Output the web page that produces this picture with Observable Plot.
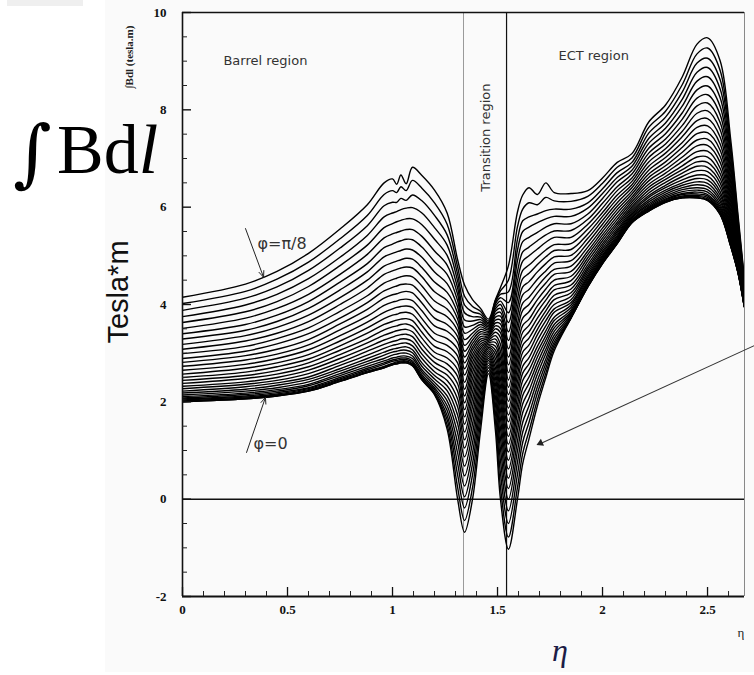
<!DOCTYPE html>
<html>
<head>
<meta charset="utf-8">
<script src="https://cdn.jsdelivr.net/npm/d3@7"></script>
<script src="https://cdn.jsdelivr.net/npm/@observablehq/plot@0.6"></script>
<style>
  body { margin: 0; background: #fff; }
  #wrap { position: relative; width: 754px; height: 675px; overflow: hidden; }
  #paper { position: absolute; left: 105px; top: 0; width: 649px; height: 672px; background: #fafafa; }
  #tab { position: absolute; left: 7px; top: 0; width: 76px; height: 6px; background: #efefef; }
  #chart { position: absolute; left: 0; top: 0; }
</style>
</head>
<body>
<div id="wrap">
  <div id="paper"></div>
  <div id="tab"></div>
  <div id="chart"></div>
</div>
<script>
// Pseudorapidity samples shared by every field-integral curve
const eta = [0, 0.30, 0.45, 0.60, 0.75, 0.88, 0.96, 1.00, 1.02, 1.04, 1.065, 1.095, 1.14, 1.20, 1.26, 1.31,
  1.343, 1.381, 1.419, 1.457, 1.49, 1.514, 1.552, 1.595, 1.62, 1.65, 1.69, 1.73, 1.77, 1.85, 1.93, 2.00,
  2.07, 2.14, 2.22, 2.30, 2.38, 2.45, 2.50, 2.56, 2.61, 2.645, 2.675];

// ∫Bdl (T·m) at eta[i] for each azimuth step, from φ=0 (first) to φ=π/8 (last)
const col00 = [2.00, 2.00, 2.01, 2.02, 2.04, 2.06, 2.08, 2.11, 2.14, 2.18, 2.22, 2.27, 2.32, 2.38, 2.44, 2.50, 2.57, 2.65, 2.73, 2.81, 2.89, 2.99, 3.08, 3.18, 3.29, 3.40, 3.51, 3.63, 3.75, 3.88, 4.02, 4.15];
const col01 = [2.06, 2.06, 2.07, 2.08, 2.10, 2.12, 2.15, 2.18, 2.22, 2.26, 2.31, 2.36, 2.41, 2.48, 2.54, 2.61, 2.69, 2.77, 2.86, 2.95, 3.04, 3.14, 3.25, 3.36, 3.47, 3.59, 3.72, 3.85, 3.99, 4.13, 4.27, 4.42];
const col02 = [2.12, 2.12, 2.13, 2.14, 2.16, 2.19, 2.22, 2.25, 2.29, 2.34, 2.39, 2.44, 2.50, 2.57, 2.64, 2.72, 2.80, 2.89, 2.98, 3.08, 3.19, 3.30, 3.41, 3.53, 3.65, 3.78, 3.92, 4.06, 4.21, 4.36, 4.52, 4.68];
const col03 = [2.22, 2.22, 2.23, 2.25, 2.27, 2.29, 2.33, 2.36, 2.41, 2.46, 2.51, 2.58, 2.65, 2.72, 2.80, 2.88, 2.97, 3.07, 3.17, 3.28, 3.40, 3.52, 3.65, 3.78, 3.92, 4.06, 4.21, 4.37, 4.53, 4.70, 4.87, 5.05];
const col04 = [2.42, 2.42, 2.43, 2.45, 2.47, 2.50, 2.54, 2.58, 2.63, 2.68, 2.75, 2.81, 2.89, 2.97, 3.06, 3.15, 3.25, 3.36, 3.48, 3.60, 3.72, 3.86, 4.00, 4.14, 4.30, 4.46, 4.62, 4.80, 4.97, 5.16, 5.35, 5.55];
const col05 = [2.60, 2.60, 2.61, 2.63, 2.66, 2.69, 2.73, 2.78, 2.83, 2.89, 2.96, 3.04, 3.12, 3.21, 3.30, 3.41, 3.52, 3.64, 3.76, 3.90, 4.04, 4.18, 4.34, 4.50, 4.67, 4.84, 5.03, 5.22, 5.42, 5.62, 5.83, 6.05];
const col06 = [2.70, 2.70, 2.72, 2.73, 2.77, 2.80, 2.84, 2.89, 2.96, 3.02, 3.10, 3.18, 3.27, 3.37, 3.48, 3.59, 3.71, 3.84, 3.98, 4.13, 4.28, 4.44, 4.62, 4.79, 4.98, 5.17, 5.37, 5.58, 5.80, 6.03, 6.26, 6.50];
const col07 = [2.76, 2.76, 2.78, 2.79, 2.83, 2.86, 2.90, 2.96, 3.02, 3.08, 3.16, 3.24, 3.33, 3.43, 3.54, 3.65, 3.78, 3.91, 4.05, 4.20, 4.35, 4.51, 4.69, 4.86, 5.05, 5.24, 5.45, 5.66, 5.88, 6.10, 6.34, 6.58];
const col08 = [2.78, 2.78, 2.80, 2.82, 2.85, 2.88, 2.92, 2.98, 3.04, 3.10, 3.18, 3.26, 3.36, 3.46, 3.56, 3.68, 3.80, 3.94, 4.07, 4.22, 4.38, 4.54, 4.72, 4.89, 5.08, 5.28, 5.48, 5.70, 5.91, 6.10, 6.30, 6.47];
const col09 = [2.80, 2.80, 2.82, 2.84, 2.87, 2.90, 2.94, 3.00, 3.06, 3.12, 3.20, 3.29, 3.38, 3.48, 3.59, 3.70, 3.83, 3.96, 4.10, 4.25, 4.41, 4.57, 4.75, 4.92, 5.11, 5.31, 5.51, 5.73, 5.95, 6.18, 6.42, 6.66];
const col10 = [2.80, 2.80, 2.82, 2.84, 2.87, 2.90, 2.94, 3.00, 3.06, 3.13, 3.21, 3.29, 3.39, 3.49, 3.60, 3.71, 3.84, 3.97, 4.11, 4.27, 4.42, 4.59, 4.77, 4.95, 5.14, 5.34, 5.54, 5.76, 5.98, 6.14, 6.34, 6.48];
const col11 = [2.74, 2.74, 2.76, 2.78, 2.81, 2.84, 2.89, 2.94, 3.01, 3.07, 3.15, 3.24, 3.34, 3.44, 3.55, 3.67, 3.80, 3.94, 4.08, 4.24, 4.40, 4.57, 4.75, 4.93, 5.12, 5.33, 5.54, 5.76, 5.99, 6.25, 6.55, 6.82];
const col12 = [2.45, 2.45, 2.47, 2.49, 2.52, 2.56, 2.61, 2.66, 2.73, 2.80, 2.89, 2.98, 3.08, 3.19, 3.31, 3.43, 3.57, 3.71, 3.87, 4.03, 4.20, 4.38, 4.57, 4.76, 4.97, 5.18, 5.40, 5.64, 5.88, 6.13, 6.39, 6.65];
const col13 = [2.15, 2.16, 2.18, 2.21, 2.25, 2.29, 2.34, 2.40, 2.47, 2.54, 2.62, 2.71, 2.81, 2.91, 3.02, 3.14, 3.27, 3.41, 3.56, 3.72, 3.89, 4.07, 4.26, 4.46, 4.67, 4.88, 5.10, 5.34, 5.58, 5.83, 6.09, 6.35];
const col14 = [1.44, 1.53, 1.63, 1.72, 1.82, 1.92, 2.02, 2.12, 2.23, 2.33, 2.44, 2.55, 2.66, 2.78, 2.90, 3.03, 3.16, 3.30, 3.45, 3.59, 3.75, 3.91, 4.08, 4.25, 4.43, 4.62, 4.81, 5.01, 5.22, 5.43, 5.65, 5.88];
const col15 = [0.00, 0.24, 0.50, 0.73, 0.95, 1.16, 1.36, 1.55, 1.73, 1.90, 2.06, 2.22, 2.37, 2.52, 2.66, 2.80, 2.94, 3.08, 3.22, 3.34, 3.46, 3.58, 3.70, 3.82, 3.95, 4.08, 4.21, 4.34, 4.48, 4.62, 4.77, 4.92];
const col16 = [-0.68, -0.44, -0.18, 0.05, 0.27, 0.48, 0.68, 0.87, 1.05, 1.22, 1.38, 1.54, 1.69, 1.84, 1.98, 2.12, 2.26, 2.40, 2.55, 2.68, 2.80, 2.92, 3.04, 3.16, 3.28, 3.41, 3.54, 3.68, 3.83, 3.99, 4.17, 4.40];
const col17 = [0.00, 0.24, 0.50, 0.73, 0.95, 1.16, 1.36, 1.55, 1.73, 1.90, 2.06, 2.21, 2.35, 2.48, 2.60, 2.71, 2.81, 2.90, 2.98, 3.06, 3.13, 3.20, 3.27, 3.34, 3.41, 3.49, 3.57, 3.66, 3.75, 3.85, 3.96, 4.10];
const col18 = [1.41, 1.58, 1.75, 1.91, 2.06, 2.20, 2.33, 2.45, 2.56, 2.66, 2.75, 2.83, 2.90, 2.97, 3.03, 3.09, 3.14, 3.19, 3.24, 3.29, 3.34, 3.39, 3.44, 3.49, 3.54, 3.59, 3.64, 3.69, 3.74, 3.80, 3.86, 3.92];
const col19 = [2.58, 2.64, 2.70, 2.75, 2.80, 2.85, 2.89, 2.93, 2.97, 3.01, 3.05, 3.09, 3.12, 3.15, 3.18, 3.21, 3.24, 3.27, 3.30, 3.33, 3.36, 3.39, 3.42, 3.45, 3.48, 3.51, 3.54, 3.57, 3.60, 3.63, 3.66, 3.70];
const col20 = [1.41, 1.60, 1.78, 1.95, 2.10, 2.24, 2.37, 2.49, 2.60, 2.70, 2.80, 2.89, 2.98, 3.06, 3.14, 3.22, 3.29, 3.36, 3.43, 3.50, 3.56, 3.62, 3.68, 3.74, 3.80, 3.86, 3.91, 3.96, 4.01, 4.05, 4.08, 4.10];
const col21 = [0.00, 0.25, 0.53, 0.79, 1.03, 1.25, 1.46, 1.65, 1.83, 2.00, 2.16, 2.32, 2.47, 2.62, 2.76, 2.90, 3.04, 3.18, 3.32, 3.42, 3.51, 3.60, 3.68, 3.76, 3.84, 3.92, 4.00, 4.07, 4.14, 4.21, 4.28, 4.35];
const col22 = [-1.03, -0.78, -0.50, -0.24, 0.00, 0.22, 0.43, 0.62, 0.80, 0.97, 1.13, 1.29, 1.44, 1.59, 1.73, 1.87, 2.01, 2.15, 2.30, 2.45, 2.60, 2.76, 2.92, 3.09, 3.26, 3.44, 3.63, 3.83, 4.04, 4.26, 4.50, 4.80];
const col23 = [0.00, 0.24, 0.51, 0.76, 0.99, 1.20, 1.41, 1.59, 1.78, 1.94, 2.10, 2.26, 2.41, 2.56, 2.71, 2.85, 2.99, 3.14, 3.30, 3.46, 3.61, 3.78, 3.95, 4.12, 4.30, 4.49, 4.68, 4.90, 5.12, 5.34, 5.60, 5.90];
const col24 = [0.73, 0.94, 1.17, 1.38, 1.58, 1.78, 1.96, 2.13, 2.28, 2.44, 2.59, 2.73, 2.88, 3.02, 3.16, 3.29, 3.43, 3.57, 3.72, 3.88, 4.03, 4.20, 4.36, 4.53, 4.70, 4.89, 5.08, 5.29, 5.50, 5.72, 5.96, 6.25];
const col25 = [1.24, 1.40, 1.58, 1.75, 1.92, 2.08, 2.23, 2.38, 2.51, 2.65, 2.78, 2.91, 3.04, 3.17, 3.31, 3.44, 3.57, 3.70, 3.85, 4.00, 4.15, 4.31, 4.47, 4.64, 4.81, 5.00, 5.18, 5.38, 5.59, 5.80, 6.09, 6.40];
const col26 = [1.92, 2.04, 2.18, 2.31, 2.44, 2.57, 2.69, 2.80, 2.92, 3.03, 3.14, 3.26, 3.38, 3.49, 3.60, 3.72, 3.85, 3.97, 4.10, 4.24, 4.37, 4.52, 4.67, 4.82, 4.97, 5.14, 5.31, 5.48, 5.68, 5.86, 6.05, 6.26];
const col27 = [2.50, 2.59, 2.69, 2.79, 2.88, 2.99, 3.08, 3.18, 3.27, 3.36, 3.46, 3.56, 3.67, 3.77, 3.87, 3.97, 4.09, 4.19, 4.32, 4.44, 4.57, 4.69, 4.84, 4.98, 5.12, 5.28, 5.43, 5.59, 5.76, 5.93, 6.20, 6.50];
const col28 = [3.05, 3.11, 3.17, 3.23, 3.30, 3.37, 3.45, 3.52, 3.59, 3.67, 3.74, 3.84, 3.91, 4.00, 4.10, 4.19, 4.30, 4.39, 4.50, 4.62, 4.72, 4.85, 4.98, 5.11, 5.23, 5.38, 5.51, 5.66, 5.81, 5.96, 6.13, 6.30];
const col29 = [3.72, 3.72, 3.73, 3.74, 3.76, 3.79, 3.82, 3.85, 3.89, 3.94, 3.99, 4.04, 4.10, 4.17, 4.24, 4.32, 4.40, 4.49, 4.58, 4.68, 4.79, 4.90, 5.01, 5.13, 5.25, 5.38, 5.52, 5.66, 5.81, 5.96, 6.12, 6.28];
const col30 = [4.36, 4.36, 4.37, 4.38, 4.39, 4.41, 4.43, 4.46, 4.49, 4.53, 4.57, 4.61, 4.66, 4.71, 4.76, 4.82, 4.89, 4.96, 5.03, 5.10, 5.18, 5.27, 5.36, 5.45, 5.55, 5.65, 5.75, 5.86, 5.98, 6.09, 6.22, 6.34];
const col31 = [4.84, 4.84, 4.85, 4.86, 4.87, 4.89, 4.91, 4.93, 4.96, 4.99, 5.02, 5.06, 5.10, 5.15, 5.20, 5.25, 5.31, 5.37, 5.43, 5.50, 5.57, 5.65, 5.73, 5.81, 5.89, 5.98, 6.08, 6.18, 6.28, 6.38, 6.49, 6.60];
const col32 = [5.25, 5.25, 5.26, 5.27, 5.28, 5.29, 5.31, 5.34, 5.36, 5.39, 5.42, 5.46, 5.50, 5.54, 5.59, 5.64, 5.69, 5.75, 5.81, 5.88, 5.95, 6.02, 6.09, 6.17, 6.25, 6.34, 6.42, 6.52, 6.61, 6.71, 6.82, 6.92];
const col33 = [5.68, 5.68, 5.69, 5.69, 5.70, 5.72, 5.73, 5.75, 5.78, 5.80, 5.83, 5.86, 5.89, 5.93, 5.97, 6.01, 6.06, 6.11, 6.16, 6.21, 6.27, 6.33, 6.40, 6.46, 6.53, 6.60, 6.68, 6.76, 6.84, 6.92, 7.01, 7.10];
const col34 = [5.92, 5.92, 5.93, 5.94, 5.95, 5.97, 5.99, 6.01, 6.04, 6.07, 6.11, 6.15, 6.20, 6.24, 6.29, 6.35, 6.41, 6.47, 6.54, 6.61, 6.68, 6.76, 6.84, 6.93, 7.02, 7.11, 7.21, 7.31, 7.41, 7.52, 7.64, 7.75];
const col35 = [6.10, 6.10, 6.11, 6.12, 6.13, 6.15, 6.17, 6.20, 6.23, 6.27, 6.31, 6.35, 6.40, 6.45, 6.51, 6.57, 6.63, 6.70, 6.77, 6.85, 6.93, 7.02, 7.11, 7.20, 7.30, 7.40, 7.51, 7.62, 7.73, 7.85, 7.97, 8.10];
const col36 = [6.19, 6.19, 6.20, 6.21, 6.23, 6.26, 6.28, 6.32, 6.36, 6.40, 6.45, 6.50, 6.56, 6.63, 6.70, 6.77, 6.85, 6.94, 7.03, 7.13, 7.23, 7.33, 7.45, 7.56, 7.68, 7.81, 7.94, 8.08, 8.22, 8.37, 8.52, 8.68];
const col37 = [6.19, 6.19, 6.20, 6.22, 6.24, 6.27, 6.31, 6.35, 6.40, 6.46, 6.52, 6.59, 6.66, 6.75, 6.84, 6.93, 7.03, 7.14, 7.26, 7.38, 7.51, 7.64, 7.78, 7.93, 8.08, 8.24, 8.41, 8.59, 8.77, 8.96, 9.15, 9.35];
const col38 = [6.14, 6.14, 6.15, 6.17, 6.20, 6.23, 6.26, 6.31, 6.36, 6.42, 6.49, 6.56, 6.64, 6.73, 6.82, 6.92, 7.03, 7.15, 7.27, 7.40, 7.53, 7.67, 7.82, 7.98, 8.14, 8.31, 8.49, 8.68, 8.87, 9.06, 9.27, 9.48];
const col39 = [5.85, 5.85, 5.86, 5.88, 5.90, 5.93, 5.97, 6.01, 6.06, 6.12, 6.18, 6.25, 6.32, 6.41, 6.50, 6.59, 6.69, 6.80, 6.92, 7.04, 7.17, 7.30, 7.44, 7.59, 7.74, 7.90, 8.07, 8.25, 8.43, 8.62, 8.81, 9.01];
const col40 = [5.20, 5.20, 5.21, 5.22, 5.24, 5.26, 5.28, 5.31, 5.35, 5.39, 5.43, 5.48, 5.53, 5.59, 5.65, 5.72, 5.79, 5.86, 5.94, 6.03, 6.12, 6.21, 6.31, 6.41, 6.52, 6.63, 6.75, 6.87, 7.00, 7.13, 7.26, 7.40];
const col41 = [4.65, 4.65, 4.66, 4.66, 4.67, 4.68, 4.69, 4.71, 4.73, 4.75, 4.78, 4.80, 4.83, 4.86, 4.90, 4.93, 4.97, 5.01, 5.05, 5.10, 5.15, 5.20, 5.26, 5.31, 5.37, 5.43, 5.49, 5.56, 5.63, 5.70, 5.77, 5.85];
const col42 = [3.95, 3.95, 3.95, 3.96, 3.96, 3.97, 3.97, 3.98, 3.99, 4.00, 4.01, 4.03, 4.04, 4.06, 4.07, 4.09, 4.11, 4.13, 4.15, 4.18, 4.20, 4.23, 4.25, 4.28, 4.31, 4.34, 4.37, 4.41, 4.44, 4.48, 4.51, 4.55];

// Axis ticks
const xMajor = [0, 0.5, 1, 1.5, 2, 2.5];
const xMinor = [0.1, 0.2, 0.3, 0.4, 0.6, 0.7, 0.8, 0.9, 1.1, 1.2, 1.3, 1.4, 1.6, 1.7, 1.8, 1.9, 2.1, 2.2, 2.3, 2.4, 2.6];
const yMajor = [-2, 0, 2, 4, 6, 8, 10];
const yMinor = [-1.5, -1, -0.5, 0.5, 1, 1.5, 2.5, 3, 3.5, 4.5, 5, 5.5, 6.5, 7, 7.5, 8.5, 9, 9.5];

// Region boundaries in eta
const boundaries = [1.338, 1.543];

// Long table: one row per (curve, eta) sample
const columns = [col00, col01, col02, col03, col04, col05, col06, col07, col08, col09, col10, col11, col12, col13,
  col14, col15, col16, col17, col18, col19, col20, col21, col22, col23, col24, col25, col26, col27, col28, col29,
  col30, col31, col32, col33, col34, col35, col36, col37, col38, col39, col40, col41, col42];
const samples = [];
eta.forEach((e, j) => columns[j].forEach((v, k) => samples.push({eta: e, bdl: v, curve: k})));

const serif = "'Liberation Serif', 'Times New Roman', serif";
const sans = "'DejaVu Sans', sans-serif";

const chart = Plot.plot({
  width: 754,
  height: 675,
  marginLeft: 182,
  marginRight: 10,
  marginTop: 12,
  marginBottom: 79,
  style: {background: "transparent", fontFamily: serif, overflow: "visible"},
  x: {domain: [0, 2.676], label: null},
  y: {domain: [-2, 10], label: null},
  marks: [
    // region boundaries
    Plot.ruleX([boundaries[0]], {stroke: "#9a9a9a", strokeWidth: 1}),
    Plot.ruleX([boundaries[1]], {stroke: "#111", strokeWidth: 1.2}),
    Plot.ruleY([0], {stroke: "#111", strokeWidth: 1.5}),
    // the family of field-integral curves
    Plot.line(samples, {x: "eta", y: "bdl", z: "curve", curve: "catmull-rom", stroke: "#000", strokeWidth: 1.4, clip: true}),
    // frame
    Plot.ruleY([10], {stroke: "#111", strokeWidth: 1.4}),
    Plot.ruleX([2.676], {stroke: "#888", strokeWidth: 1}),
    Plot.ruleX([0], {stroke: "#111", strokeWidth: 1.6}),
    Plot.ruleY([-2], {stroke: "#111", strokeWidth: 2}),
    // axes with inward ticks
    Plot.axisY({ticks: yMajor, anchor: "left", tickSize: 0, tickPadding: 16, tickFormat: d => String(d),
      fontFamily: serif, fontWeight: "bold", fontSize: 13, fill: "#111", label: null}),
    Plot.axisY({ticks: yMajor, anchor: "left", tickSize: -9, tickFormat: () => "", label: null, stroke: "#111", strokeWidth: 1.4}),
    Plot.axisY({ticks: yMinor, anchor: "left", tickSize: -5, tickFormat: () => "", label: null, stroke: "#222"}),
    Plot.axisX({ticks: xMajor, anchor: "bottom", tickSize: 0, tickPadding: 8, tickFormat: d => String(d),
      fontFamily: serif, fontWeight: "bold", fontSize: 13, fill: "#111", label: null}),
    Plot.axisX({ticks: xMajor, anchor: "bottom", tickSize: -9, tickFormat: () => "", label: null, stroke: "#111", strokeWidth: 1.3}),
    Plot.axisX({ticks: xMinor, anchor: "bottom", tickSize: -5, tickFormat: () => "", label: null, stroke: "#222"}),
    // region labels
    Plot.text([{x: 0.195, y: 9.0, t: "Barrel region"}], {x: "x", y: "y", text: "t", textAnchor: "start", fontFamily: sans, fontSize: 13, fill: "#333"}),
    Plot.text([{x: 1.79, y: 9.1, t: "ECT region"}], {x: "x", y: "y", text: "t", textAnchor: "start", fontFamily: sans, fontSize: 13, fill: "#333"}),
    Plot.text([{x: 1.443, y: 7.43, t: "Transition region"}], {x: "x", y: "y", text: "t", rotate: -90, fontFamily: sans, fontSize: 13, fill: "#333"}),
    // curve labels and pointers
    Plot.text([{x: 0.357, y: 5.25, t: "φ=π/8"}], {x: "x", y: "y", text: "t", textAnchor: "start", fontFamily: sans, fontSize: 16, fill: "#333"}),
    Plot.text([{x: 0.338, y: 1.14, t: "φ=0"}], {x: "x", y: "y", text: "t", textAnchor: "start", fontFamily: sans, fontSize: 16, fill: "#333"}),
    Plot.arrow([{x1: 0.300, y1: 5.56, x2: 0.386, y2: 4.56}], {x1: "x1", y1: "y1", x2: "x2", y2: "y2", stroke: "#222", strokeWidth: 1, headLength: 10, headAngle: 45}),
    Plot.arrow([{x1: 0.305, y1: 0.96, x2: 0.395, y2: 2.09}], {x1: "x1", y1: "y1", x2: "x2", y2: "y2", stroke: "#222", strokeWidth: 1, headLength: 10, headAngle: 45}),
    Plot.link([{x1: 2.724, y1: 3.158, x2: 1.695, y2: 1.125}], {x1: "x1", y1: "y1", x2: "x2", y2: "y2", stroke: "#333", strokeWidth: 1.1}),
    Plot.dot([{x: 1.7045, y: 1.150}], {x: "x", y: "y", symbol: "triangle2", r: 3.6, rotate: 245.5, fill: "#222", stroke: "none"})
  ]
});

const svg = d3.select(chart);
// original axis caption, rotated
svg.append("text")
  .attr("transform", "translate(133,57) rotate(-90)")
  .attr("text-anchor", "middle")
  .attr("font-family", serif)
  .attr("font-weight", "bold")
  .attr("font-size", 11)
  .attr("fill", "#222")
  .text("∫Bdl (tesla.m)");
// large overlay title: integral sign and the rest set separately
svg.append("text")
  .attr("x", 13).attr("y", 178)
  .attr("text-anchor", "start")
  .attr("font-family", "'DejaVu Serif', serif")
  .attr("font-size", 74)
  .attr("fill", "#000")
  .text("∫");
const big = svg.append("text")
  .attr("x", 57).attr("y", 173)
  .attr("text-anchor", "start")
  .attr("font-family", serif)
  .attr("font-size", 70)
  .attr("fill", "#000");
big.append("tspan").text("Bd");
big.append("tspan").attr("font-style", "italic").text("l");
// unit label
svg.append("text")
  .attr("transform", "translate(128,292) rotate(-90)")
  .attr("text-anchor", "middle")
  .attr("font-family", "'Liberation Sans', Arial, sans-serif")
  .attr("font-size", 29)
  .attr("fill", "#111")
  .text("Tesla*m");
// eta axis labels
svg.append("text")
  .attr("x", 560).attr("y", 661)
  .attr("text-anchor", "middle")
  .attr("font-family", serif)
  .attr("font-style", "italic")
  .attr("font-size", 32)
  .attr("fill", "#1c1c46")
  .text("η");
svg.append("text")
  .attr("x", 741).attr("y", 637)
  .attr("text-anchor", "middle")
  .attr("font-family", serif)
  .attr("font-size", 13)
  .attr("fill", "#222")
  .text("η");

document.getElementById("chart").appendChild(chart);
</script>
</body>
</html>
